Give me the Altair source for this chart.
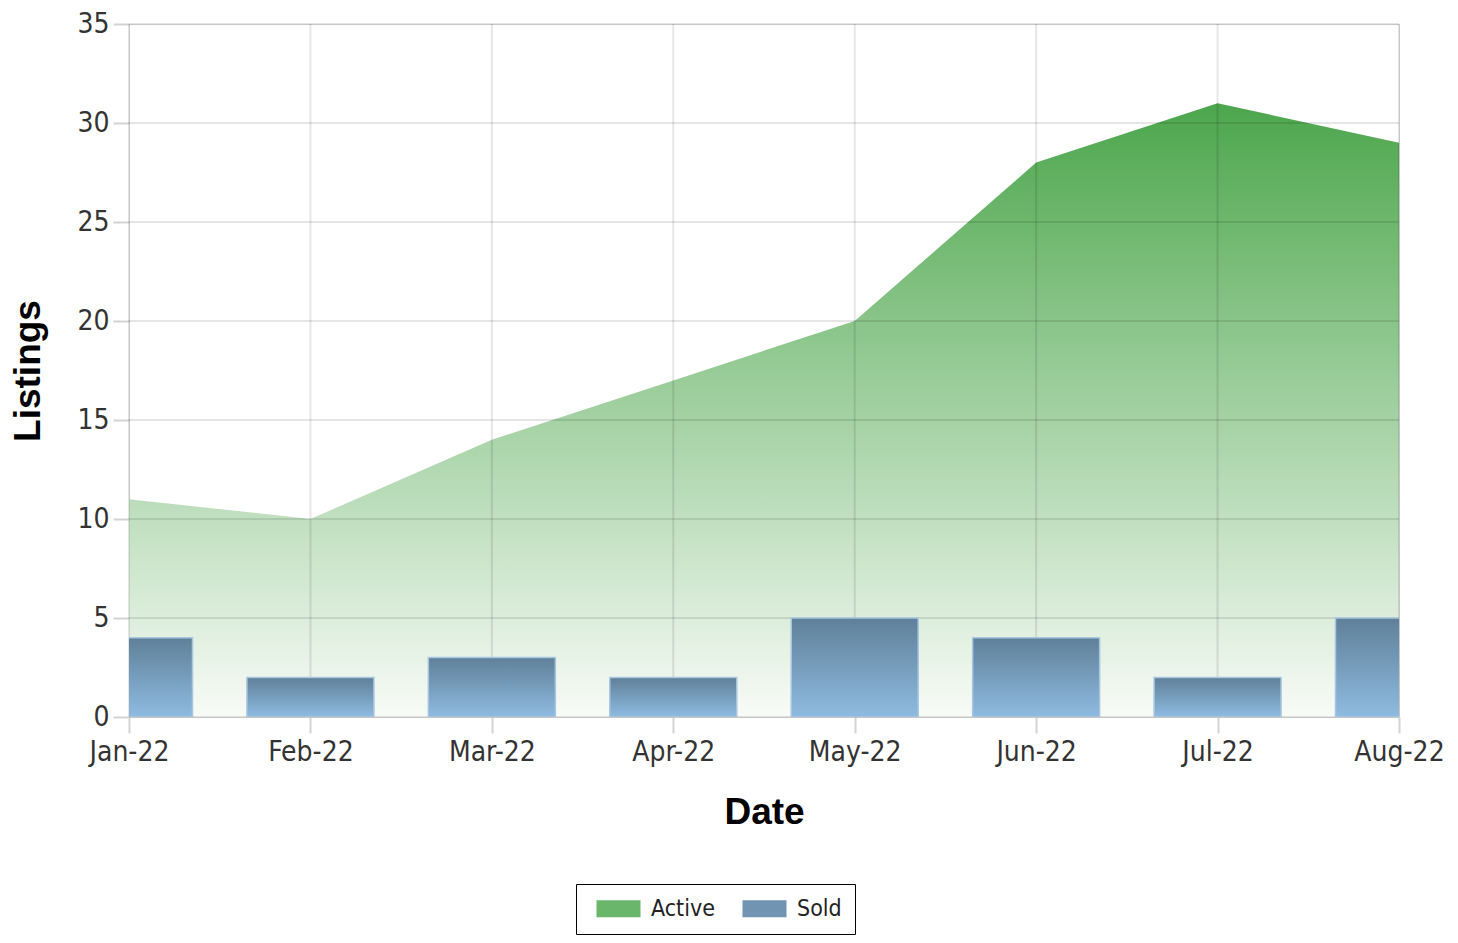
import altair as alt
import pandas as pd

# ---- data ----
months = ["Jan-22", "Feb-22", "Mar-22", "Apr-22", "May-22", "Jun-22", "Jul-22", "Aug-22"]
active = [11, 10, 14, 17, 20, 28, 31, 29]
sold = [4, 2, 3, 2, 5, 4, 2, 5]
y_ticks = [0, 5, 10, 15, 20, 25, 30, 35]
series = ["Active", "Sold"]
series_colors = ["#6ab66a", "#7094b2"]

df = pd.DataFrame({"month": months, "active": active, "sold": sold})
grid_y = pd.DataFrame({"v": y_ticks})
grid_x = pd.DataFrame({"month": months})
legend_df = pd.DataFrame({"series": series})

LABEL_FONT = "DejaVu Sans Condensed, Liberation Sans Narrow, sans-serif"
BOLD = "Liberation Sans, Arial, sans-serif"

x_scale = alt.Scale(type="point", domain=months, padding=0)
x_enc = alt.X(
    "month:N",
    title="Date",
    scale=x_scale,
    sort=months,
    axis=alt.Axis(
        grid=False, domain=False, labelAngle=0,
        tickSize=16, tickColor="#d3d3d3", tickWidth=2,
        labelFont=LABEL_FONT, labelFontSize=28, labelColor="#333333",
        labelPadding=5, labelOverlap=False,
        titleFont=BOLD, titleFontSize=37, titleFontWeight="bold",
        titleColor="#000000", titlePadding=28,
    ),
)
y_scale = alt.Scale(domain=[0, 35], nice=False)
y_enc = alt.Y(
    "active:Q",
    title="Listings",
    scale=y_scale,
    axis=alt.Axis(
        values=y_ticks,
        grid=False, domain=False,
        tickSize=16, tickColor="#d3d3d3", tickWidth=2,
        labelFont=LABEL_FONT, labelFontSize=28, labelColor="#333333",
        labelPadding=4,
        titleFont=BOLD, titleFontSize=37, titleFontWeight="bold",
        titleColor="#000000", titlePadding=29,
    ),
)

area_grad = alt.Gradient(
    gradient="linear",
    stops=[alt.GradientStop(color="#4ca64c", offset=0),
           alt.GradientStop(color="#f8fbf7", offset=1)],
    x1=0, x2=0, y1=0, y2=1,
)
bar_grad = alt.Gradient(
    gradient="linear",
    stops=[alt.GradientStop(color="#5f8099", offset=0),
           alt.GradientStop(color="#8fbbe0", offset=1)],
    x1=0, x2=0, y1=0, y2=1,
)

area = alt.Chart(df).mark_area(fill=area_grad, opacity=1).encode(x=x_enc, y=y_enc)

vgrid = alt.Chart(grid_x).mark_rule(color="#000000", strokeOpacity=0.1, strokeWidth=2).encode(
    x=alt.X("month:N", scale=x_scale, sort=months)
)
hgrid = alt.Chart(grid_y).mark_rule(color="#000000", strokeOpacity=0.1, strokeWidth=2).encode(
    y=alt.Y("v:Q", scale=y_scale)
)

bars = alt.Chart(df).mark_bar(
    fill=bar_grad, width=127, clip=True, stroke="#a8c6e0", strokeWidth=1.5
).encode(
    x=alt.X("month:N", scale=x_scale, sort=months),
    y=alt.Y("sold:Q", scale=y_scale),
)

dummy = alt.Chart(legend_df).mark_square(opacity=0, filled=True).encode(
    color=alt.Color(
        "series:N",
        scale=alt.Scale(domain=series, range=series_colors),
        legend=alt.Legend(
            title=None,
            orient="none", legendX=447, legendY=860,
            direction="horizontal",
            symbolType="M-2.2,-0.85H2.2V0.85H-2.2Z",
            symbolSize=400,
            symbolOffset=18,
            symbolOpacity=1,
            symbolStrokeWidth=0,
            labelFont=LABEL_FONT, labelFontSize=23, labelColor="#222222",
            labelOffset=21,
            columnPadding=20,
            padding=13,
            strokeColor="#000000",
        ),
    )
)

chart = alt.layer(area, vgrid, hgrid, bars, dummy).properties(
    width=1270, height=693,
    autosize=alt.AutoSizeParams(type="none"),
    padding={"left": 121, "top": 16, "right": 50, "bottom": 218},
).configure_view(stroke=None).configure_legend(strokeWidth=2).configure(background="#ffffff")

chart.save("out.html", embed_options={"renderer": "svg", "actions": False})
